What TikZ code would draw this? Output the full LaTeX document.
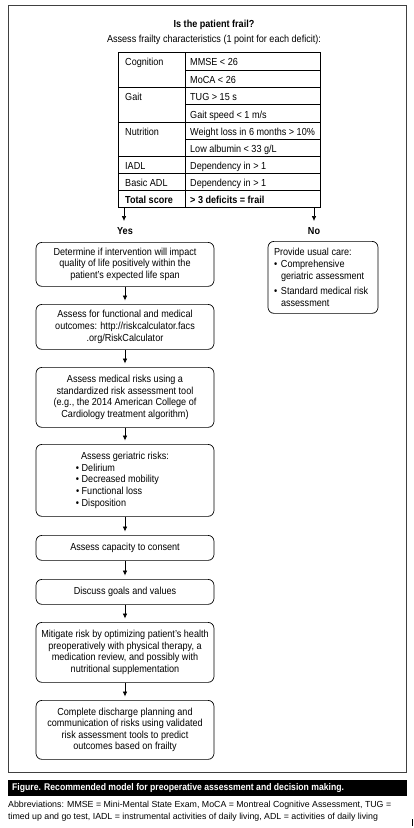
\documentclass[tikz,border=0pt]{standalone}
\usepackage{fontspec}
\setmainfont{Liberation Sans}[FakeStretch=0.89]
\newfontfamily\plainsans{Liberation Sans}
\usetikzlibrary{arrows.meta}
\newcommand{\bul}[1]{\par\hangindent=7pt\hangafter=1\noindent\makebox[7pt][l]{•}#1}
\begin{document}
\begin{tikzpicture}[x=1pt,y=-1pt,
  font=\fontsize{10.2}{11.6}\selectfont,
  box/.style={draw,rounded corners=6pt,line width=0.7pt,minimum width=178pt,align=center,inner sep=0pt,anchor=north},
  arr/.style={-{Latex[length=5pt,width=4.5pt]},line width=0.6pt},
  flow/.style={arr,shorten >=3.5pt},
  tl/.style={anchor=base west,inner sep=0pt},
  lbl/.style={font=\fontsize{10.2}{11.6}\selectfont\bfseries,inner sep=0pt}
]
\useasboundingbox (0,0) rectangle (413,828);
% outer frame
\draw[line width=1pt,black!75] (8,5) rectangle (406,772);
% title
\node[lbl] (title) at (214,25) {Is the patient frail?};
\node[inner sep=0pt] (sub) at (214,40) {Assess frailty characteristics (1 point for each deficit):};
% table
\draw[line width=0.6pt] (185,52) -- (185,207);
\draw[line width=0.6pt] (185,70) -- (320,70);
\draw[line width=0.6pt] (118,87) -- (320,87);
\draw[line width=0.6pt] (185,104) -- (320,104);
\draw[line width=0.6pt] (118,122) -- (320,122);
\draw[line width=0.6pt] (185,139) -- (320,139);
\draw[line width=0.6pt] (118,156) -- (320,156);
\draw[line width=0.6pt] (118,173) -- (320,173);
\draw[line width=1pt] (118,190) -- (320,190);
\draw[line width=0.9pt] (118,52) rectangle (320,207);
\node[tl] (c1) at (125,65) {Cognition};
\node[tl] (c2) at (125,100) {Gait};
\node[tl] (c3) at (125,135) {Nutrition};
\node[tl] (c4) at (125,169) {IADL};
\node[tl] (c5) at (125,186) {Basic ADL};
\node[tl,font=\fontsize{10.2}{11.6}\selectfont\bfseries] (c6) at (125,203) {Total score};
\node[tl] (d1) at (190,65) {MMSE < 26};
\node[tl] (d2) at (190,83) {MoCA < 26};
\node[tl] (d3) at (190,100) {TUG > 15 s};
\node[tl] (d4) at (190,118) {Gait speed < 1 m/s};
\node[tl] (d5) at (190,135) {Weight loss in 6 months > 10\%};
\node[tl] (d6) at (190,152) {Low albumin < 33 g/L};
\node[tl] (d7) at (190,169) {Dependency in > 1};
\node[tl] (d8) at (190,186) {Dependency in > 1};
\node[tl,font=\fontsize{10.2}{11.6}\selectfont\bfseries] (d9) at (190,203) {> 3 deficits = frail};
\coordinate (tblL) at (124,207);
\coordinate (tblR) at (314,207);
% yes / no
\node[lbl] (yes) at (125,231) {Yes};
\node[lbl] (no) at (314,231) {No};
\draw[arr] (tblL) -- (124,221);
\draw[arr] (tblR) -- (314,221);
% left column boxes
\node[box,minimum height=44pt] (b1) at (125,242) {Determine if intervention will impact\\quality of life positively within the\\patient’s expected life span};
\node[box,minimum height=45pt] (b2) at (125,304) {Assess for functional and medical\\outcomes: http://riskcalculator.facs\\.org/RiskCalculator};
\node[box,minimum height=60pt] (b3) at (125,367) {Assess medical risks using a\\standardized risk assessment tool\\(e.g., the 2014 American College of\\Cardiology treatment algorithm)};
\node[box,minimum height=72pt,align=left] (b4) at (125,444) {\parbox{178pt}{\centering Assess geriatric risks:\par\raggedright\leftskip=40pt
 • Delirium\par • Decreased mobility\par • Functional loss\par • Disposition\par}};
\node[box,minimum height=25pt] (b5) at (125,535) {Assess capacity to consent};
\node[box,minimum height=25pt] (b6) at (125,579) {Discuss goals and values};
\node[box,minimum height=60pt] (b7) at (125,622) {Mitigate risk by optimizing patient’s health\\preoperatively with physical therapy, a\\medication review, and possibly with\\nutritional supplementation};
\node[box,minimum height=59pt] (b8) at (125,700) {Complete discharge planning and\\communication of risks using validated\\risk assessment tools to predict\\outcomes based on frailty};
\draw[flow] (b1) -- (b2);
\draw[flow] (b2) -- (b3);
\draw[flow] (b3) -- (b4);
\draw[flow] (b4) -- (b5);
\draw[flow] (b5) -- (b6);
\draw[flow] (b6) -- (b7);
\draw[flow] (b7) -- (b8);
% right box
\node[box,minimum width=110pt,minimum height=72pt,align=left] (r1) at (323,241) {\parbox{98pt}{\raggedright Provide usual care:\bul{Comprehensive geriatric assessment}\par\vspace{4pt}\bul{Standard medical risk assessment}\par}};
% caption
\node[fill=black,minimum width=399pt,minimum height=16pt,inner sep=0pt,anchor=north west] (cap) at (8,780) {};
\node[anchor=west,text=white,inner sep=0pt,font=\fontsize{9.7}{11}\selectfont\bfseries] (captext) at (12,788) {Figure. Recommended model for preoperative assessment and decision making.};
\node[anchor=base west,inner sep=0pt,font=\plainsans\fontsize{8.8}{12}\selectfont] (abbr1) at (8,807.5) {Abbreviations: MMSE = Mini-Mental State Exam, MoCA = Montreal Cognitive Assessment, TUG =};
\node[anchor=base west,inner sep=0pt,font=\plainsans\fontsize{8.8}{12}\selectfont] (abbr2) at (8,819.5) {timed up and go test, IADL = instrumental activities of daily living, ADL = activities of daily living};
\fill (411.5,819) rectangle (413,826);
\end{tikzpicture}
\end{document}
